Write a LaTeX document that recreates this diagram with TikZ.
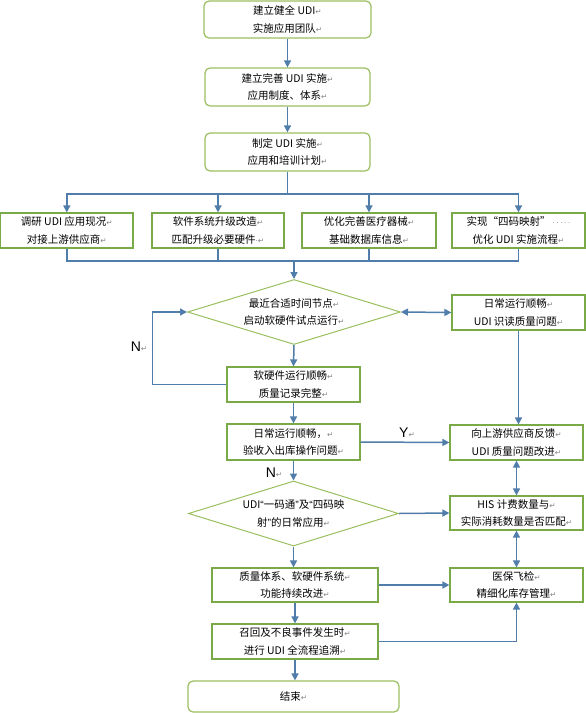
\documentclass[tikz,border=0pt]{standalone}
\usepackage{fontspec}
\setmainfont{Noto Sans CJK SC}
\newfontfamily\symf{DejaVu Sans}
\newfontfamily\latf{Liberation Sans}
\usetikzlibrary{arrows.meta,shapes.geometric}
\definecolor{boxgreen}{RGB}{122,170,72}
\definecolor{softgreen}{RGB}{155,190,95}
\definecolor{linkblue}{RGB}{80,125,170}
\newcommand{\retmark}{{\symf\fontsize{7.5}{7.5}\selectfont\color{gray}↵}}
\newcommand{\spacedots}{{\symf\fontsize{7}{7}\selectfont\color{gray}·}}
\newcommand{\openq}{{\latf “}}
\newcommand{\closeq}{{\latf ”}}
\tikzset{
	procbox/.style={draw=boxgreen, line width=1.2pt, inner sep=0pt, align=center, font=\fontsize{10.5}{17.5}\selectfont},
	roundbox/.style={procbox, draw=softgreen, rounded corners=5pt},
	decide/.style={diamond, draw=softgreen, line width=1pt, inner sep=0pt},
	wire/.style={draw=linkblue, line width=1.5pt},
	link/.style={wire, -{Triangle[length=7pt,width=7pt]}},
	link2/.style={wire, {Triangle[length=7pt,width=7pt]}-{Triangle[length=7pt,width=7pt]}},
	yesno/.style={font=\latf\fontsize{14}{14}\selectfont, inner sep=0pt}
}
\begin{document}
\begin{tikzpicture}[x=1pt,y=-1pt]
		\useasboundingbox (0,0) rectangle (586,713);

		% 准备阶段
			\node[roundbox, minimum width=167pt, minimum height=37pt] (b1) at (287.5,19.5) {建立健全 UDI\retmark\\实施应用团队\retmark};
			\node[roundbox, minimum width=165pt, minimum height=38pt] (b2) at (287.5,87) {建立完善 UDI 实施\retmark\\应用制度、体系\retmark};
			\node[roundbox, minimum width=165pt, minimum height=38pt] (b3) at (287.5,152) {制定 UDI 实施\retmark\\应用和培训计划\retmark};
			\draw[link] (b1) -- (b2);
			\draw[link] (b2) -- (b3);

		% 四项准备工作
			\node[procbox, minimum width=132.4pt, minimum height=35pt] (ba) at (66.8,230.5) {调研 UDI 应用现况\retmark\\对接上游供应商\retmark};
			\node[procbox, minimum width=132pt, minimum height=35pt] (bb) at (218,230.5) {软件系统升级改造\retmark\\匹配升级必要硬件\spacedots\retmark};
			\node[procbox, minimum width=134pt, minimum height=35pt] (bc) at (369,230.5) {优化完善医疗器械\retmark\\基础数据库信息\retmark};
			\node[procbox, minimum width=133pt, minimum height=35pt] (bd) at (518.5,230.5) {实现“四码映射”\,\spacedots\,\spacedots\,\spacedots\,\spacedots\,\spacedots\\优化 UDI 实施流程\retmark};
			\coordinate (fork) at (287.5,194);
			\coordinate (merge) at (294,261);
			\draw[wire] (b3.south) -- (fork);
			\foreach \b in {ba,bb,bc,bd}
				\draw[link] (fork) -| (\b.north);
			\draw[wire] (ba.south) |- (merge);
			\draw[wire] (bd.south) |- (merge);
			\draw[wire] (bb.south) -- (bb.south |- merge);
			\draw[wire] (bc.south) -- (bc.south |- merge);

		% 试点运行
			\node[decide, minimum width=213pt, minimum height=65pt] (d1) at (294,312) {};
			\node[procbox, draw=none] (d1t) at (d1) {最近合适时间节点\retmark\\启动软硬件试点运行\retmark};
			\node[procbox, minimum width=133pt, minimum height=35pt] (be) at (518.5,312.5) {日常运行顺畅\retmark\\UDI 识读质量问题\retmark};
			\node[procbox, minimum width=133pt, minimum height=35pt] (bf) at (293.5,384.5) {软硬件运行顺畅\retmark\\质量记录完整\retmark};
			\node[procbox, minimum width=133pt, minimum height=36pt] (bg) at (293.5,442) {日常运行顺畅，\retmark\\验收入出库操作问题\retmark};
			\node[procbox, minimum width=133pt, minimum height=35pt] (bh) at (516.5,442.5) {向上游供应商反馈\retmark\\UDI 质量问题改进\retmark};
			\draw[link] (merge) -- (d1.north);
			\draw[link2] (d1.east) -- (be.west);
			\draw[link] (be.south) -- (be.south |- bh.north);
			\draw[link] (d1.south) -- (bf.north);
			\draw[link] (bf.west) -- ++(-74,0) |- (d1.west);
			\node[yesno] (n1) at (139,347) {N\retmark};
			\draw[link] (bf.south) -- (bg.north);
			\draw[link] (bg.east) -- (bh.west);
			\node[yesno] (y1) at (407,433) {Y\retmark};

		% 日常应用与持续改进
			\node[decide, minimum width=210pt, minimum height=65pt] (d2) at (293.5,513.5) {};
			\node[procbox, draw=none] (d2t) at (d2) {UDI\openq 一码通\closeq 及\openq 四码映\\射\closeq 的日常应用\retmark};
			\node[procbox, minimum width=133pt, minimum height=34pt] (bi) at (516.5,513) {HIS 计费数量与\retmark\\实际消耗数量是否匹配\retmark};
			\node[procbox, minimum width=133pt, minimum height=34pt] (bj) at (516.5,585) {医保飞检\retmark\\精细化库存管理\retmark};
			\node[procbox, minimum width=166pt, minimum height=34pt] (bk) at (295,585) {质量体系、软硬件系统\retmark\\功能持续改进\retmark};
			\node[procbox, minimum width=166pt, minimum height=35pt] (bl) at (295,641.5) {召回及不良事件发生时\retmark\\进行 UDI 全流程追溯\retmark};
			\node[roundbox, minimum width=211pt, minimum height=31pt] (end) at (293.5,696.5) {结束\retmark};
			\draw[link] (bg.south) -- (d2.north);
			\node[yesno] (n2) at (274,473) {N\retmark};
			\draw[link2] (bh.south) -- (bi.north);
			\draw[link] (d2.east) -- (bi.west);
			\draw[link2] (bi.south) -- (bj.north);
			\draw[link] (d2.south) -- (d2.south |- bk.north);
			\draw[link] (bk.east) -- (bj.west);
			\draw[link] (bk.south) -- (bl.north);
			\draw[link] (bl.east) -| (bj.south);
			\draw[link] (bl.south) -- (bl.south |- end.north);
	\end{tikzpicture}
\end{document}
